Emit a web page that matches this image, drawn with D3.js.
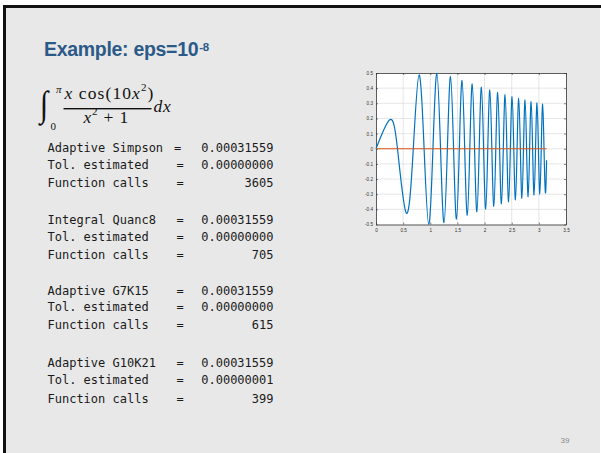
<!DOCTYPE html>
<html><head><meta charset="utf-8">
<script src="https://cdn.jsdelivr.net/npm/d3@7"></script>
<style>
html,body{margin:0;padding:0;background:#fff;}
svg{display:block;}
</style>
</head><body>
<script>
// ---- data ----
const curveX = [0, 0.252, 0.396, 0.560, 0.687, 0.793, 0.886, 0.971, 1.049, 1.121, 1.189, 1.253, 1.315, 1.373, 1.429, 1.483, 1.535, 1.585, 1.634, 1.682, 1.728, 1.773, 1.816, 1.859, 1.901, 1.942, 1.982, 2.021, 2.059, 2.097, 2.134, 2.171, 2.207, 2.242, 2.277, 2.311, 2.345, 2.378, 2.411, 2.443, 2.475, 2.507, 2.538, 2.569, 2.599, 2.629, 2.659, 2.688, 2.717, 2.746, 2.774, 2.803, 2.830, 2.858, 2.885, 2.912, 2.939, 2.966, 2.992, 3.018, 3.044, 3.070, 3.095, 3.121, 3.142];
const curveY = [0, 0.191, 0, -0.426, 0, 0.487, 0, -0.500, 0, 0.497, 0, -0.488, 0, 0.476, 0, -0.464, 0, 0.451, 0, -0.439, 0, 0.428, 0, -0.417, 0, 0.407, 0, -0.398, 0, 0.389, 0, -0.380, 0, 0.372, 0, -0.364, 0, 0.357, 0, -0.351, 0, 0.344, 0, -0.338, 0, 0.332, 0, -0.327, 0, 0.322, 0, -0.317, 0, 0.312, 0, -0.307, 0, 0.303, 0, -0.299, 0, 0.295, 0, -0.291, -0.076];
const zeroLineX = [0, 3.142];
const zeroLineY = [0, 0];
const xTicks = [0, 0.5, 1, 1.5, 2, 2.5, 3, 3.5];
const xTickLabels = ["0", "0.5", "1", "1.5", "2", "2.5", "3", "3.5"];
const yTicks = [-0.5, -0.4, -0.3, -0.2, -0.1, 0, 0.1, 0.2, 0.3, 0.4, 0.5];
const yTickLabels = ["-0.5", "-0.4", "-0.3", "-0.2", "-0.1", "0", "0.1", "0.2", "0.3", "0.4", "0.5"];
const methods = ["Adaptive Simpson", "Integral Quanc8", "Adaptive G7K15", "Adaptive G10K21"];
const results = ["0.00031559", "0.00031559", "0.00031559", "0.00031559"];
const tolerances = ["0.00000000", "0.00000000", "0.00000000", "0.00000001"];
const calls = ["3605", "705", "615", "399"];
const titleText = "Example: eps=10";
const titleSup = "-8";
const pageNumber = "39";

// ---- drawing ----
const W = 601, H = 453;
const svg = d3.select("body").append("svg").attr("width", W).attr("height", H);

// slide
svg.append("rect").attr("x", 3).attr("y", 5).attr("width", 597).attr("height", H - 5).attr("fill", "#e8e8e8");
svg.append("rect").attr("x", 3).attr("y", 5).attr("width", 598).attr("height", 3).attr("fill", "#111");
svg.append("rect").attr("x", 3).attr("y", 5).attr("width", 3).attr("height", H - 5).attr("fill", "#111");

// title
const title = svg.append("text").attr("x", 44).attr("y", 56)
  .attr("font-family", "Liberation Sans, Arial, sans-serif").attr("font-weight", "bold")
  .attr("font-size", 19.5).attr("fill", "#2c5a88").attr("letter-spacing", -0.3);
title.append("tspan").text(titleText);
title.append("tspan").attr("font-size", 11.5).attr("dy", -5).attr("dx", 1).text(titleSup);

// integral formula
const mathFont = "Liberation Serif, DejaVu Serif, serif";
svg.append("text").attr("transform", "translate(40,116) scale(1,1.2)").attr("font-family", mathFont)
  .attr("font-size", 30).attr("fill", "#111").text("∫");
svg.append("text").attr("x", 56).attr("y", 93).attr("font-family", mathFont).attr("font-style", "italic")
  .attr("font-size", 11).attr("fill", "#111").text("π");
svg.append("text").attr("x", 50.5).attr("y", 130).attr("font-family", mathFont)
  .attr("font-size", 11).attr("fill", "#111").text("0");
const num = svg.append("text").attr("x", 64.5).attr("y", 98.5).attr("font-family", mathFont)
  .attr("font-size", 17.5).attr("fill", "#111").attr("letter-spacing", 1.1);
num.append("tspan").attr("font-style", "italic").text("x");
num.append("tspan").text(" cos(10");
num.append("tspan").attr("font-style", "italic").text("x");
num.append("tspan").attr("font-size", 11).attr("dy", -7.5).text("2");
num.append("tspan").attr("dy", 7.5).text(")");
svg.append("rect").attr("x", 63.5).attr("y", 108).attr("width", 88).attr("height", 1.4).attr("fill", "#111");
const den = svg.append("text").attr("x", 83.5).attr("y", 122.5).attr("font-family", mathFont)
  .attr("font-size", 17.5).attr("fill", "#111").attr("letter-spacing", 0.8);
den.append("tspan").attr("font-style", "italic").text("x");
den.append("tspan").attr("font-size", 11).attr("dy", -7.5).text("2");
den.append("tspan").attr("dy", 7.5).text(" + 1");
svg.append("text").attr("x", 153.5).attr("y", 111.5).attr("font-family", mathFont).attr("font-style", "italic")
  .attr("font-size", 17.5).attr("fill", "#111").attr("letter-spacing", 0.8).text("dx");

// results text
const mono = "DejaVu Sans Mono, Liberation Mono, monospace";
const rowLabels = [];
methods.forEach((m, i) => {
  rowLabels.push({label: m, value: results[i], eq: i === 0 ? 174 : 176.5});
  rowLabels.push({label: "Tol. estimated", value: tolerances[i], eq: 176.5});
  rowLabels.push({label: "Function calls", value: calls[i], eq: 176.5});
});
const baseY = [152, 169, 187, 224, 241, 259, 295, 311, 329, 367, 384, 403];
const rows = svg.append("g").attr("font-family", mono).attr("font-size", 12).attr("fill", "#1a1a1a");
rowLabels.forEach((r, i) => {
  rows.append("text").attr("x", 47.5).attr("y", baseY[i]).text(r.label);
  rows.append("text").attr("x", r.eq).attr("y", baseY[i]).text("=");
  rows.append("text").attr("x", 273.5).attr("y", baseY[i]).attr("text-anchor", "end").text(r.value);
});

// page number
svg.append("text").attr("x", 565).attr("y", 443).attr("text-anchor", "middle")
  .attr("font-family", "Liberation Sans, Arial, sans-serif").attr("font-size", 8).attr("fill", "#8a8a8a").text(pageNumber);

// chart
const x = d3.scaleLinear().domain([0, 3.5]).range([376, 566]);
const y = d3.scaleLinear().domain([-0.5, 0.5]).range([224.5, 73]);
const chart = svg.append("g");
chart.append("rect").attr("x", x(0)).attr("y", y(0.5)).attr("width", x(3.5) - x(0)).attr("height", y(-0.5) - y(0.5)).attr("fill", "#fff");
// grid
chart.append("g").selectAll("line").data(xTicks.slice(1, -1)).join("line")
  .attr("x1", d => x(d)).attr("x2", d => x(d)).attr("y1", y(-0.5)).attr("y2", y(0.5))
  .attr("stroke", "#e0e0e0").attr("stroke-width", 0.8);
chart.append("g").selectAll("line").data(yTicks.slice(1, -1)).join("line")
  .attr("x1", x(0)).attr("x2", x(3.5)).attr("y1", d => y(d)).attr("y2", d => y(d))
  .attr("stroke", "#e0e0e0").attr("stroke-width", 0.8);

// axes with library
const xAxis = d3.axisBottom(x).tickValues(xTicks).tickFormat((d, i) => xTickLabels[i]).tickSizeInner(-2).tickSizeOuter(0).tickPadding(4);
const yAxis = d3.axisLeft(y).tickValues(yTicks).tickFormat((d, i) => yTickLabels[i]).tickSizeInner(-2).tickSizeOuter(0).tickPadding(3);
const gx = chart.append("g").attr("transform", `translate(0,${y(-0.5)})`).call(xAxis);
const gy = chart.append("g").attr("transform", `translate(${x(0)},0)`).call(yAxis);
[gx, gy].forEach(g => {
  g.selectAll("text").attr("font-family", "Liberation Sans, Arial, sans-serif").attr("font-size", 4.6).attr("fill", "#333");
  g.selectAll("line").attr("stroke", "#333").attr("stroke-width", 0.6);
  g.select(".domain").attr("stroke", "#333").attr("stroke-width", 0.8);
});
// top & right ticks
const gxTop = chart.append("g").attr("transform", `translate(0,${y(0.5)})`)
  .call(d3.axisTop(x).tickValues(xTicks).tickFormat("").tickSizeInner(-2).tickSizeOuter(0));
const gyRight = chart.append("g").attr("transform", `translate(${x(3.5)},0)`)
  .call(d3.axisRight(y).tickValues(yTicks).tickFormat("").tickSizeInner(-2).tickSizeOuter(0));
[gxTop, gyRight].forEach(g => {
  g.selectAll("line").attr("stroke", "#333").attr("stroke-width", 0.6);
  g.select(".domain").attr("stroke", "#333").attr("stroke-width", 0.8);
});

// lines
const pts = curveX.map((d, i) => [d, curveY[i]]);
const line = d3.line().x(d => x(d[0])).y(d => y(d[1])).curve(d3.curveNatural);
chart.append("path").attr("d", line(pts)).attr("fill", "none").attr("stroke", "#0072BD").attr("stroke-width", 1.2);
const zpts = zeroLineX.map((d, i) => [d, zeroLineY[i]]);
chart.append("path").attr("d", d3.line().x(d => x(d[0])).y(d => y(d[1]))(zpts))
  .attr("fill", "none").attr("stroke", "#D95319").attr("stroke-width", 1.2);
</script>
</body></html>
